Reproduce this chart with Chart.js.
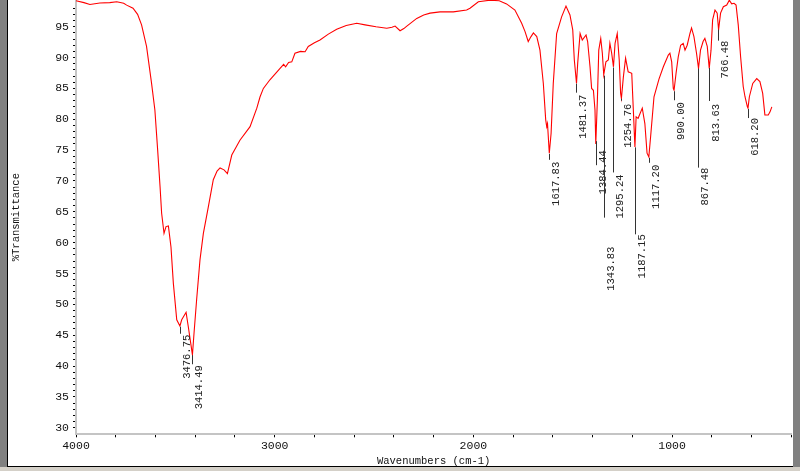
<!DOCTYPE html>
<html>
<head>
<meta charset="utf-8">
<script src="https://cdn.jsdelivr.net/npm/chart.js@4.4.0/dist/chart.umd.min.js"></script>
<style>
    html, body { margin: 0; padding: 0; background: #fff; }
    #wrap { position: relative; width: 800px; height: 471px; }
</style>
</head>
<body>
<div id="wrap"><canvas id="irChart" width="800" height="471"></canvas></div>
<script>
// IR spectrum (cm-1 / %T)
const wavenumbers = [
    4000, 3960, 3930, 3880, 3830, 3795, 3760, 3745, 3713, 3690,
    3670, 3645, 3620, 3603, 3589, 3577, 3569, 3557, 3547, 3535,
    3522, 3510, 3493, 3477, 3468, 3446, 3435, 3414, 3406, 3393,
    3376, 3359, 3334, 3309, 3290, 3275, 3255, 3238, 3216, 3175,
    3124, 3090, 3074, 3057, 3024, 2973, 2955, 2945, 2930, 2914,
    2898, 2870, 2847, 2831, 2800, 2772, 2730, 2688, 2640, 2587,
    2545, 2490, 2436, 2410, 2394, 2369, 2350, 2335, 2285, 2250,
    2218, 2168, 2101, 2034, 2017, 1975, 1916, 1870, 1833, 1791,
    1757, 1740, 1724, 1710, 1698, 1681, 1665, 1648, 1636, 1631,
    1627, 1618, 1609, 1598, 1581, 1556, 1534, 1514, 1500, 1492,
    1481, 1475, 1463, 1452, 1433, 1425, 1413, 1405, 1396, 1388,
    1384, 1376, 1369, 1359, 1351, 1344, 1333, 1321, 1313, 1304,
    1295, 1287, 1276, 1266, 1259, 1255, 1245, 1234, 1221, 1203,
    1195, 1187, 1181, 1171, 1150, 1137, 1126, 1117, 1108, 1091,
    1066, 1044, 1019, 1011, 1002, 994, 990, 980, 969, 957,
    944, 935, 924, 910, 902, 890, 877, 867, 857, 844,
    835, 823, 813, 804, 796, 784, 773, 766, 756, 742,
    725, 712, 700, 688, 678, 667, 655, 642, 633, 621,
    618, 611, 594, 574, 558, 544, 533, 516, 507, 498
];
const transmittance = [
    99.2, 98.9, 98.6, 98.85, 98.9, 99.05, 98.8, 98.5, 98.0, 97.0,
    95.3, 91.8, 85.9, 81.5, 75.0, 69.1, 64.75, 61.5, 62.6, 62.7,
    59.3, 53.4, 47.5, 46.5, 47.5, 48.7, 46.4, 41.8, 45.3, 50.7,
    57.2, 61.5, 65.8, 70.2, 71.6, 72.1, 71.8, 71.2, 74.2, 76.6,
    78.8, 81.8, 83.6, 85.0, 86.4, 88.25, 88.9, 88.5, 89.2, 89.3,
    90.7, 91.0, 90.95, 91.8, 92.4, 92.85, 93.8, 94.6, 95.2, 95.55,
    95.3, 95.0, 94.75, 94.9, 95.1, 94.35, 94.7, 95.1, 96.35, 96.9,
    97.2, 97.4, 97.4, 97.7, 98.0, 99.05, 99.3, 99.2, 98.7, 97.7,
    95.55, 94.2, 92.6, 93.4, 94.0, 93.4, 91.2, 85.8, 79.9, 78.8,
    79.3, 74.5, 77.7, 85.8, 93.9, 96.6, 98.35, 96.9, 94.5, 89.6,
    85.8, 89.1, 93.9, 92.85, 93.65, 92.6, 88.5, 85.0, 84.7, 81.5,
    76.0, 83.1, 91.2, 93.1, 90.7, 87.2, 89.3, 89.6, 92.3, 90.7,
    88.5, 92.3, 93.9, 89.6, 84.2, 83.4, 86.9, 89.9, 87.7, 87.45,
    81.5, 75.5, 80.4, 80.15, 81.8, 79.3, 74.5, 73.9, 77.2, 83.65,
    86.5, 88.5, 90.4, 90.7, 89.3, 85.0, 84.7, 87.45, 90.1, 92.0,
    92.3, 91.2, 92.0, 93.9, 94.8, 93.4, 90.7, 88.25, 91.2, 92.6,
    93.1, 91.8, 88.25, 91.2, 96.1, 97.7, 97.2, 94.5, 97.2, 98.25,
    98.5, 99.3, 98.7, 98.8, 98.5, 95.3, 90.1, 85.3, 83.65, 82.0,
    81.8, 83.65, 85.8, 86.6, 86.1, 84.2, 80.7, 80.7, 81.2, 82.0
];
const peakLabels = [
    '3476.75', '3414.49', '1617.83', '1481.37', '1384.44', '1343.83', '1295.24',
    '1254.76', '1187.15', '1117.20', '990.00', '867.48', '813.63', '766.48', '618.20'
];
const xTickLabels = [4000, 3000, 2000, 1000];
const yTickLabels = [30, 35, 40, 45, 50, 55, 60, 65, 70, 75, 80, 85, 90, 95];

// leader line length and text offset (px below the peak) for each label
const leaderLayout = [
    [8, 9], [10, 11], [7, 9], [10, 12], [25, 10], [143, 172], [106, 108],
    [3, 6], [88, 88], [6, 8], [10, 12], [100, 100], [34, 37], [12, 12], [10, 10]
];

const points = wavenumbers.map((w, i) => ({ x: w, y: transmittance[i] }));

function valueAt(w) {
    for (let i = 0; i < wavenumbers.length - 1; i++) {
        const a = wavenumbers[i], b = wavenumbers[i + 1];
        if (w <= a && w >= b) {
            const t = (a - w) / (a - b);
            return transmittance[i] + t * (transmittance[i + 1] - transmittance[i]);
        }
    }
    return transmittance[transmittance.length - 1];
}

const monoFont = "'Liberation Mono', 'DejaVu Sans Mono', monospace";

const peakMarks = {
    id: 'peakMarks',
    afterDatasetsDraw(chart) {
        const { ctx, scales } = chart;
        ctx.save();
        ctx.font = '10.5px ' + monoFont;
        ctx.fillStyle = '#222';
        ctx.strokeStyle = '#333';
        ctx.lineWidth = 1;
        peakLabels.forEach((label, i) => {
            const w = parseFloat(label);
            const x = Math.round(scales.x.getPixelForValue(w)) + 0.5;
            const y = scales.y.getPixelForValue(valueAt(w));
            const [len, gap] = leaderLayout[i];
            ctx.beginPath();
            ctx.moveTo(x, y + 1);
            ctx.lineTo(x, y + len);
            ctx.stroke();
            ctx.save();
            ctx.translate(x + 6.5, y + gap);
            ctx.rotate(-Math.PI / 2);
            ctx.textAlign = 'right';
            ctx.textBaseline = 'middle';
            ctx.fillText(label, 0, 0);
            ctx.restore();
        });
        ctx.restore();
    }
};

const windowFrame = {
    id: 'windowFrame',
    beforeDraw(chart) {
        const ctx = chart.ctx;
        ctx.save();
        ctx.fillStyle = '#fff';
        ctx.fillRect(0, 0, 800, 471);
        ctx.restore();
    },
    afterDraw(chart) {
        const ctx = chart.ctx;
        ctx.save();
        ctx.fillStyle = '#808080';
        ctx.fillRect(0, 0, 7, 467);
        ctx.fillRect(793, 0, 7, 467);
        ctx.fillStyle = '#000';
        ctx.fillRect(7, 0, 1, 467);
        ctx.fillRect(7, 466, 786, 1);
        ctx.fillStyle = '#d4d0c8';
        ctx.fillRect(0, 467, 800, 4);
        ctx.restore();
    }
};

const ctx = document.getElementById('irChart').getContext('2d');
const irChart = new Chart(ctx, {
    type: 'line',
    data: {
        datasets: [{
            label: 'IR',
            data: points,
            borderColor: '#ff0000',
            borderWidth: 1.1,
            pointRadius: 0,
            tension: 0,
            fill: false
        }]
    },
    options: {
        responsive: false,
        animation: false,
        devicePixelRatio: 1,
        layout: { padding: { left: 0, right: 8.7, top: 0, bottom: 0 } },
        plugins: {
            legend: { display: false },
            tooltip: { enabled: false }
        },
        scales: {
            x: {
                type: 'linear',
                reverse: true,
                min: 400,
                max: 4000,
                afterFit: s => {
                    s.height = 36.7;
                    s.paddingLeft = 0;
                    s.paddingRight = 0;
                },
                ticks: {
                    stepSize: 200,
                    autoSkip: false,
                    maxRotation: 0,
                    padding: 2,
                    color: '#111',
                    font: { family: monoFont, size: 11.5 },
                    callback: v => xTickLabels.includes(v) ? String(v) : ''
                },
                grid: { drawOnChartArea: false, drawTicks: true, tickLength: 3, tickColor: '#000' },
                border: { color: '#c4c4c4', width: 2 },
                title: {
                    display: true,
                    text: 'Wavenumbers (cm-1)',
                    color: '#111',
                    font: { family: monoFont, size: 10.5 },
                    padding: { top: 0, bottom: 3 }
                }
            },
            y: {
                type: 'linear',
                min: 28.93,
                max: 99.33,
                afterFit: s => {
                    s.width = 76;
                    s.paddingTop = 0;
                    s.paddingBottom = 0;
                },
                afterBuildTicks: s => {
                    s.ticks = s.ticks.filter(t => Math.abs(t.value - Math.round(t.value)) < 1e-6);
                },
                ticks: {
                    stepSize: 1,
                    autoSkip: false,
                    padding: 4,
                    color: '#111',
                    font: { family: monoFont, size: 11.5 },
                    callback: v => yTickLabels.includes(Math.round(v)) ? String(Math.round(v)) : ''
                },
                grid: { drawOnChartArea: false, drawTicks: true, tickLength: 3, tickColor: '#000' },
                border: { color: '#c4c4c4', width: 2 },
                title: {
                    display: true,
                    text: '%Transmittance',
                    color: '#111',
                    font: { family: monoFont, size: 10.5 },
                    padding: { top: 10, bottom: 0 }
                }
            }
        }
    },
    plugins: [windowFrame, peakMarks]
});
</script>
</body>
</html>
